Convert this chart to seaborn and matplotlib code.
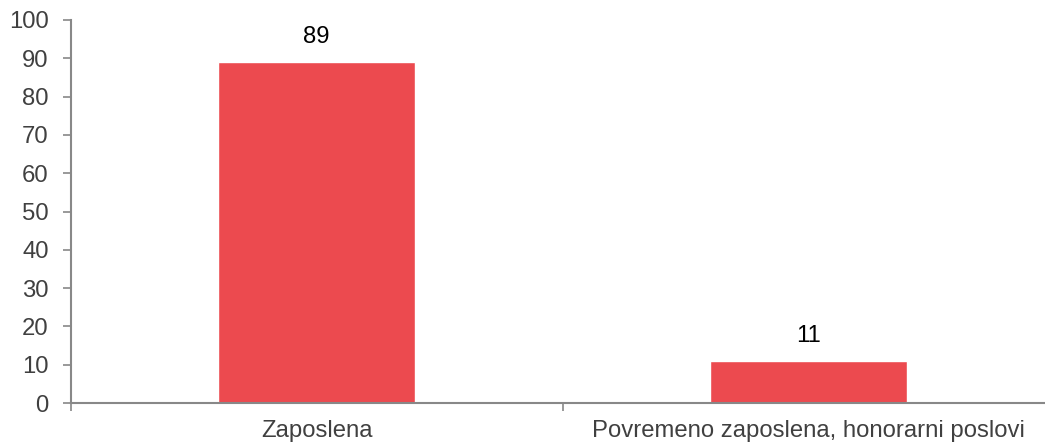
# Bar chart: share of employed vs occasionally employed
import matplotlib
matplotlib.use("Agg")
import matplotlib.pyplot as plt
import seaborn as sns
import pandas as pd

# Data
categories = ["Zaposlena", "Povremeno zaposlena, honorarni poslovi"]
values = [89, 11]
y_ticks = list(range(0, 101, 10))

df = pd.DataFrame({"kategorija": categories, "vrijednost": values})

sns.set_style("white")
plt.rcParams["font.family"] = ["Liberation Sans", "DejaVu Sans"]

fig = plt.figure(figsize=(10.45, 4.43), dpi=100)
ax = fig.add_axes([71 / 1045, 40 / 443, 983 / 1045, 383 / 443])

sns.barplot(data=df, x="kategorija", y="vrijednost", color="#EC4A4F",
            saturation=1, width=0.4, ax=ax)

# Value labels
for c in ax.containers:
    ax.bar_label(c, labels=[str(v) for v in values], padding=10,
                 fontsize=17.2, color="black")

ax.set_xlim(-0.5, 1.5)
ax.set_ylim(0, 100)
ax.set_yticks(y_ticks)
ax.set_xlabel("")
ax.set_ylabel("")

# Category labels centered, tick marks at category boundaries
ax.set_xticks([0, 1])
ax.set_xticklabels(categories)
ax.set_xticks([-0.5, 0.5, 1.5], minor=True)
ax.tick_params(axis="x", which="major", bottom=True, length=0, pad=12,
               labelsize=17.2, labelcolor="#404040")
ax.tick_params(axis="x", which="minor", bottom=True, length=6, width=1.2,
               color="#888888", direction="out")
ax.tick_params(axis="y", left=True, length=6, width=1.2, color="#888888",
               direction="out", pad=10, labelsize=17.2, labelcolor="#404040")

for s in ["top", "right"]:
    ax.spines[s].set_visible(False)
for s in ["left", "bottom"]:
    ax.spines[s].set_color("#888888")
    ax.spines[s].set_linewidth(1.5)

fig.savefig("out.png", dpi=100)
